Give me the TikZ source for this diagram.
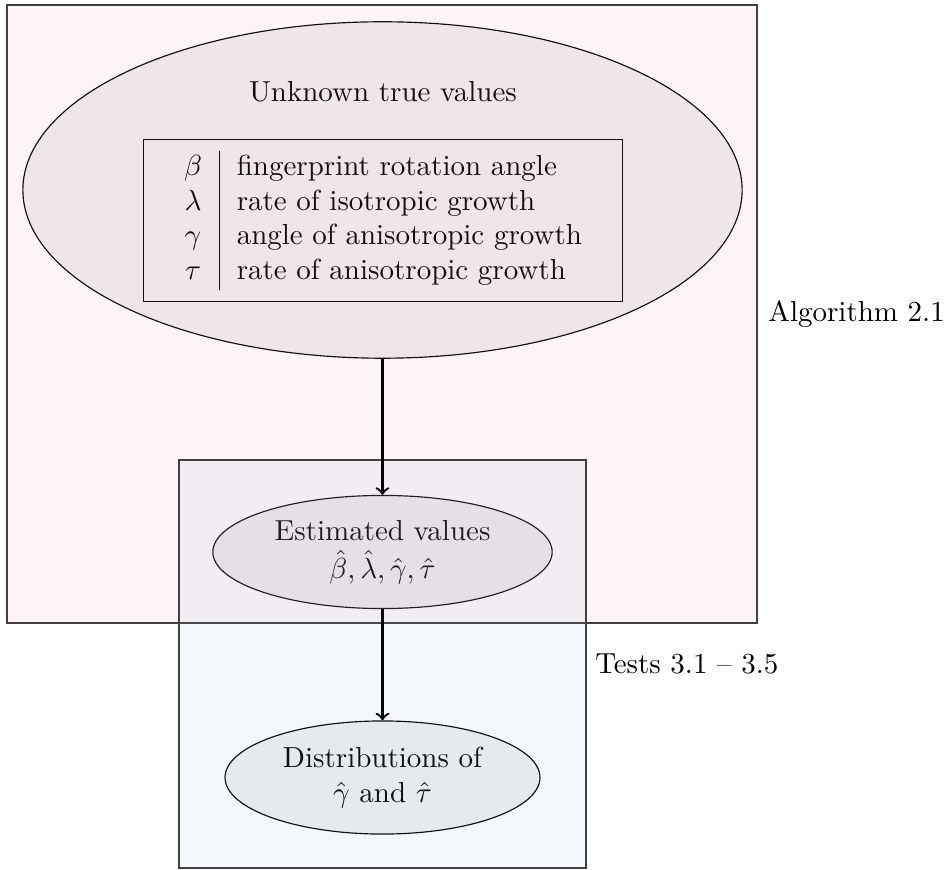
\documentclass[tikz,border=0pt]{standalone}
\usepackage{amsmath}
\usepackage{amssymb}
\usepackage{tikz}
\usetikzlibrary{shapes.geometric,positioning}

\definecolor{algpink}{RGB}{235,145,155}
\definecolor{testblue}{RGB}{145,175,225}

\begin{document}
\begin{tikzpicture}[x=0.3448pt,y=-0.3448pt,
  est/.style={ellipse,draw,fill=black!6,align=center,inner sep=0pt},
  region/.style={draw=black!75,fill opacity=0.1},
  flow/.style={->,thick}]
   \useasboundingbox (0,0) rectangle (946,869);
   \node[est,minimum width=248pt,minimum height=116pt] (truth) at (382.5,190) {};
   \node[anchor=base] (head) at (383,102) {Unknown true values};
   \node[draw,inner xsep=8pt,inner ysep=4pt] (params) at (383,220.5) {%
     \begin{tabular}{c|l}
       $\beta$ & fingerprint rotation angle\\
       $\lambda$ & rate of isotropic growth\\
       $\gamma$ & angle of anisotropic growth\\
       $\tau$ & rate of anisotropic growth
     \end{tabular}};
   \node[est,minimum width=117pt,minimum height=39pt] (estim) at (382.5,552)
     {Estimated values\\[1pt]$\hat{\beta},\hat{\lambda},\hat{\gamma},\hat{\tau}$};
   \node[est,minimum width=108.6pt,minimum height=39pt] (distr) at (382.5,777.5)
     {Distributions of\\$\hat{\gamma}$ and $\hat{\tau}$};
   \path[region,fill=algpink] (7,5) rectangle (757,623);
   \path[region,fill=testblue] (179,460) rectangle (586,868);
   \node[anchor=base west] (alglabel) at (758,322) {Algorithm 2.1};
   \node[anchor=base west] (testlabel) at (585,673) {Tests 3.1 -- 3.5};
   \draw[flow] (truth) -- (estim);
   \draw[flow] (estim) -- (distr);
\end{tikzpicture}
\end{document}
